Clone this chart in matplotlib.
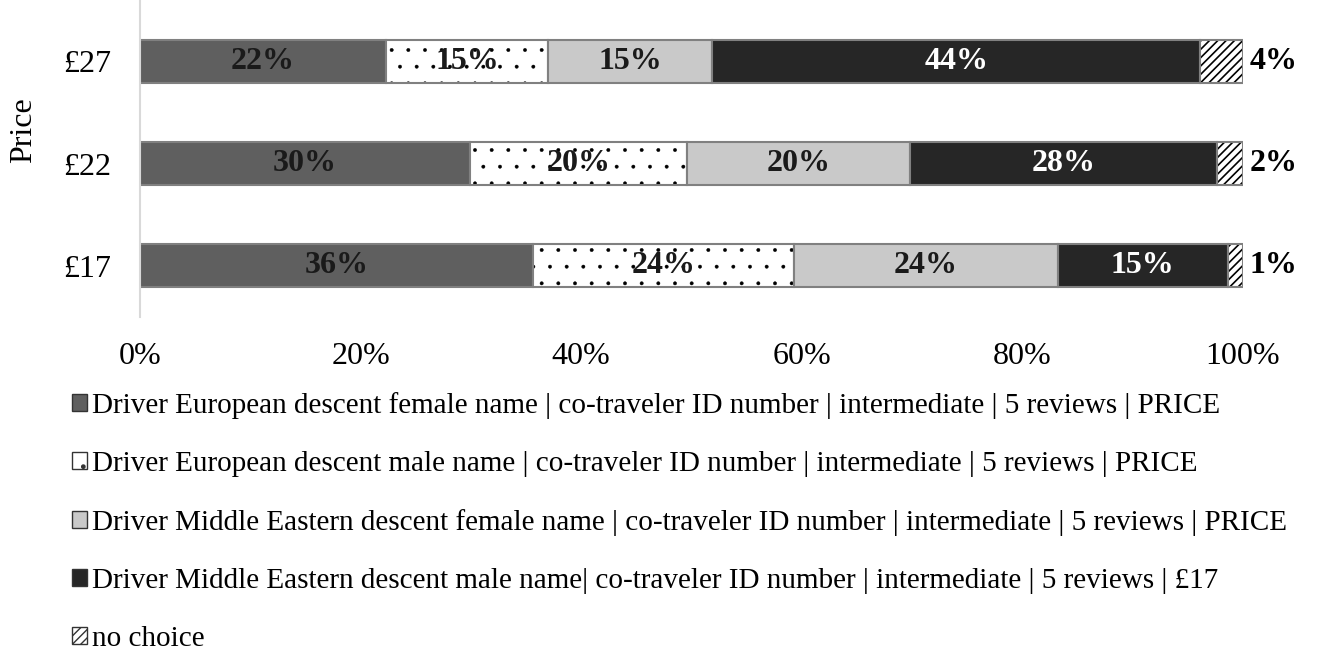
import numpy as np
import matplotlib
matplotlib.use("Agg")
import matplotlib.pyplot as plt
from matplotlib.patches import Patch

plt.rcParams['font.family'] = ['Liberation Serif', 'DejaVu Serif']

prices = ['£17', '£22', '£27']
seg_eu_f = [35.6, 29.9, 22.3]
seg_eu_m = [23.7, 19.7, 14.7]
seg_me_f = [23.9, 20.2, 14.9]
seg_me_m = [15.4, 27.8, 44.2]
seg_none = [1.4, 2.4, 3.9]

legend_labels = [
    'Driver European descent female name | co-traveler ID number | intermediate | 5 reviews | PRICE',
    'Driver European descent male name | co-traveler ID number | intermediate | 5 reviews | PRICE',
    'Driver Middle Eastern descent female name | co-traveler ID number | intermediate | 5 reviews | PRICE',
    'Driver Middle Eastern descent male name| co-traveler ID number | intermediate | 5 reviews | £17',
    'no choice',
]

series = [seg_eu_f, seg_eu_m, seg_me_f, seg_me_m, seg_none]
faces = ['#5f5f5f', 'white', '#c9c9c9', '#262626', 'white']
hatches = [None, '.', None, None, '////']
hatch_lw = [1.0, 0.3, 1.0, 1.0, 1.2]
text_colors = ['#1a1a1a', '#1a1a1a', '#1a1a1a', 'white', 'black']

fig = plt.figure(figsize=(13.2, 6.55), dpi=100)
ax = fig.add_axes([140 / 1320, 1 - 317 / 655, 1103 / 1320, 317 / 655])

y = np.arange(len(prices))
left = np.zeros(len(prices))
h = 0.42
for vals, fc, hat, hlw, tc in zip(series, faces, hatches, hatch_lw, text_colors):
    vals = np.array(vals) / 100
    # fill + hatch in black, then gray outline on top
    plt.rcParams['hatch.linewidth'] = hlw
    ax.barh(y, vals, left=left, height=h, color=fc, hatch=hat,
            edgecolor='black', linewidth=0)
    ax.barh(y, vals, left=left, height=h, fill=False,
            edgecolor='#808080', linewidth=1.5)
    for yi, v, l in zip(y, vals, left):
        txt = '{:d}%'.format(int(round(v * 100)))
        if hat == '////':
            ax.text(l + v + 0.006, yi, txt, ha='left', va='center',
                    fontsize=23, fontweight='bold', color=tc)
        else:
            ax.text(l + v / 2, yi, txt, ha='center', va='center',
                    fontsize=23, fontweight='bold', color=tc)
    left = left + vals

ax.set_xlim(0, 1)
ax.set_ylim(-0.5, 2.6)
ax.set_yticks(y)
ax.set_yticklabels(prices, fontsize=23)
ax.set_xticks(np.linspace(0, 1, 6))
ax.set_xticklabels(['{:d}%'.format(int(t)) for t in np.linspace(0, 100, 6)], fontsize=23)
ax.tick_params(axis='y', length=0, pad=21)
ax.tick_params(axis='x', length=0, pad=18)
for s in ['top', 'right', 'bottom']:
    ax.spines[s].set_visible(False)
ax.spines['left'].set_color('#d9d9d9')
ax.spines['left'].set_linewidth(1.5)
ax.set_ylabel('Price', fontsize=23)
ax.yaxis.set_label_coords(-102 / 1103, 0.59)

handles = []
for fc, hat, hlw in zip(faces, hatches, hatch_lw):
    plt.rcParams['hatch.linewidth'] = min(hlw, 1.0)
    handles.append(Patch(facecolor=fc, hatch=hat, edgecolor='#333333', linewidth=1))
fig.legend(handles, legend_labels, loc='upper left', bbox_to_anchor=(60 / 1320, 1 - 380 / 655),
           frameon=False, fontsize=21, handlelength=0.52, handleheight=0.55,
           handletextpad=0.17, labelspacing=1.1, borderaxespad=0)

fig.savefig('out.png', dpi=100)
